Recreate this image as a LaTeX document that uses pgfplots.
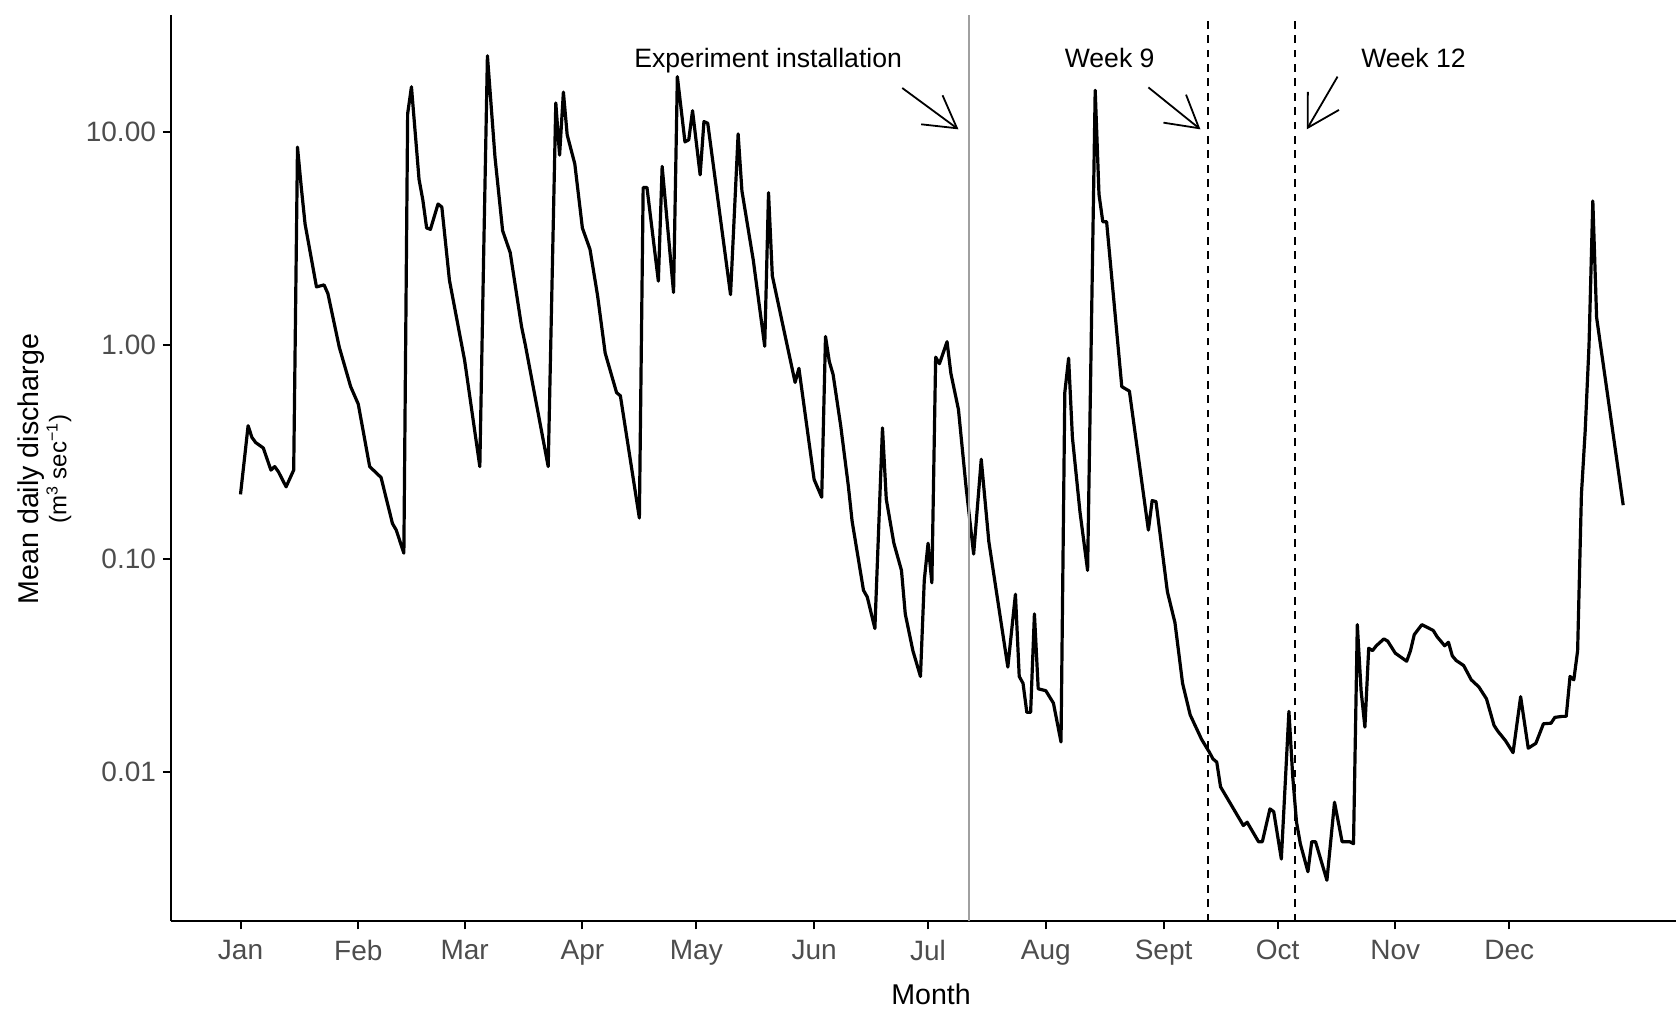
\documentclass[border=0pt]{standalone}
\usepackage{fontspec}
\setmainfont{Liberation Sans}
\usepackage{pgfplots}
\usepackage{pgfplotstable}
\pgfplotsset{compat=1.18}
\usetikzlibrary{arrows.meta}

\definecolor{tickgray}{HTML}{4D4D4D}
\definecolor{installgray}{HTML}{A0A0A0}

% Mean daily discharge (m^3/s) by day of year
\pgfplotstableread{
day q
1 0.20
3 0.42
4 0.37
5 0.35
7 0.33
9 0.26
10 0.27
11 0.255
13 0.217
15 0.26
16 8.5
17 5.5
18 3.7
21 1.88
23 1.92
24 1.75
27 0.98
30 0.64
32 0.53
35 0.27
38 0.24
41 0.146
42 0.136
44 0.106
45 12.2
46 16.3
48 6.0
49 4.8
50 3.55
51 3.5
53 4.6
54 4.45
56 2.02
60 0.85
64 0.27
65 2.6
66 22.8
68 7.6
70 3.45
72 2.72
75 1.22
76 1.0
82 0.27
84 13.7
85 7.8
86 15.4
87 9.7
89 7.1
91 3.55
93 2.82
95 1.71
97 0.92
100 0.60
101 0.58
106 0.155
107 5.5
108 5.5
111 2.0
112 6.9
115 1.77
116 18.2
118 9.0
119 9.2
120 12.6
122 6.3
123 11.2
124 11.0
130 1.73
132 9.8
133 5.3
136 2.5
139 0.99
140 5.2
141 2.12
144 1.19
147 0.67
148 0.78
152 0.235
154 0.194
155 1.10
156 0.84
157 0.73
159 0.42
161 0.22
162 0.15
165 0.071
166 0.066
168 0.047
170 0.41
171 0.19
173 0.118
175 0.088
176 0.055
178 0.037
180 0.028
181 0.079
182 0.118
183 0.077
184 0.88
185 0.82
187 1.04
188 0.74
190 0.50
192 0.217
194 0.105
196 0.292
198 0.12
203 0.031
205 0.068
206 0.028
207 0.026
208 0.019
209 0.019
210 0.055
211 0.0245
213 0.024
215 0.021
217 0.0138
218 0.60
219 0.87
220 0.37
222 0.165
224 0.088
225 1.2
226 15.7
227 5.1
228 3.8
229 3.8
233 0.64
235 0.61
240 0.136
241 0.187
242 0.185
245 0.07
247 0.05
249 0.026
251 0.0185
254 0.0142
256 0.0124
257 0.0115
258 0.0111
259 0.0085
262 0.0069
265 0.0056
266 0.0058
269 0.0047
270 0.0047
272 0.0067
273 0.0065
275 0.0039
277 0.0192
278 0.0095
279 0.0058
280 0.0046
282 0.0034
283 0.0047
284 0.0047
287 0.0031
289 0.0072
291 0.0047
293 0.0047
294 0.0046
295 0.049
296 0.024
297 0.0162
298 0.038
299 0.037
300 0.039
302 0.042
303 0.041
305 0.036
308 0.033
309 0.037
310 0.044
312 0.049
315 0.046
316 0.043
318 0.039
319 0.0405
320 0.035
321 0.0333
323 0.0315
325 0.027
327 0.025
329 0.022
331 0.0165
332 0.0155
334 0.014
336 0.0123
338 0.0225
340 0.0129
342 0.0136
344 0.0168
346 0.0169
347 0.018
349 0.0182
350 0.0182
351 0.028
352 0.027
353 0.037
354 0.2
355 0.4
356 1.0
357 4.75
358 1.35
365 0.178
}\discharge

\begin{document}
\begin{tikzpicture}[x=1pt,y=1pt]
\useasboundingbox (-85.5,-43.3) rectangle (752.5,460.7);
\begin{axis}[
  at={(0,0)}, anchor=south west,
  scale only axis,
  width=752.5pt, height=453.2pt,
  xmin=-17.3, xmax=378.9,
  ymode=log, ymin=0.001988, ymax=35.4,
  axis x line*=bottom, axis y line*=left,
  axis line style={line width=1pt, black},
  tick align=outside,
  major tick length=4pt,
  tick style={line width=1pt, black},
  yminorticks=false, xminorticks=false,
  xtick={1,32,60,91,121,152,182,213,244,274,305,335},
  xticklabels={Jan,Feb,Mar,Apr,May,Jun,Jul,Aug,Sept,Oct,Nov,Dec},
  ytick={0.01,0.1,1,10},
  yticklabels={0.01,0.10,1.00,10.00},
  tick label style={font=\fontsize{14}{16}\selectfont, text=tickgray},
  xticklabel style={yshift=-2pt},
  xlabel={Month},
  ylabel={Mean daily discharge\\{\fontsize{12}{12}\selectfont(m\textsuperscript{3} sec\textsuperscript{−1})}},
  xlabel style={font=\fontsize{14.3}{16}\selectfont, at={(axis description cs:0.505,-0.0801)}, anchor=center},
  ylabel style={font=\fontsize{14.3}{10.5}\selectfont, align=center, at={(axis description cs:-0.084,0.499)}, anchor=center, rotate=0},
]
\addplot[black, line width=1.6pt, line join=round] table[x=day, y=q] {\discharge};

% installation date and sampling weeks
\draw[installgray, line width=1pt] (axis cs:192.7,0.001988) -- (axis cs:192.7,35.4);
\draw[black, line width=1.1pt, dash pattern=on 3.9pt off 3.3pt] (axis cs:255.6,0.001988) -- (axis cs:255.6,35.4);
\draw[black, line width=1.1pt, dash pattern=on 3.9pt off 3.3pt] (axis cs:278.7,0.001988) -- (axis cs:278.7,35.4);

\node[font=\fontsize{13.3}{15}\selectfont, anchor=base] at (axis cs:139.9,20) {Experiment installation};
\node[font=\fontsize{13.3}{15}\selectfont, anchor=base] at (axis cs:229.8,20) {Week 9};
\node[font=\fontsize{13.3}{15}\selectfont, anchor=base] at (axis cs:309.8,20) {Week 12};

\draw[line width=0.9pt, -{Straight Barb[angle=60:18pt]}] (axis cs:175.2,16.1) -- (axis cs:190,10.3);
\draw[line width=0.9pt, -{Straight Barb[angle=60:18pt]}] (axis cs:240,16.2) -- (axis cs:253.7,10.3);
\draw[line width=0.9pt, -{Straight Barb[angle=60:18pt]}] (axis cs:289.8,18.2) -- (axis cs:281.7,10.3);
\end{axis}
\end{tikzpicture}
\end{document}
